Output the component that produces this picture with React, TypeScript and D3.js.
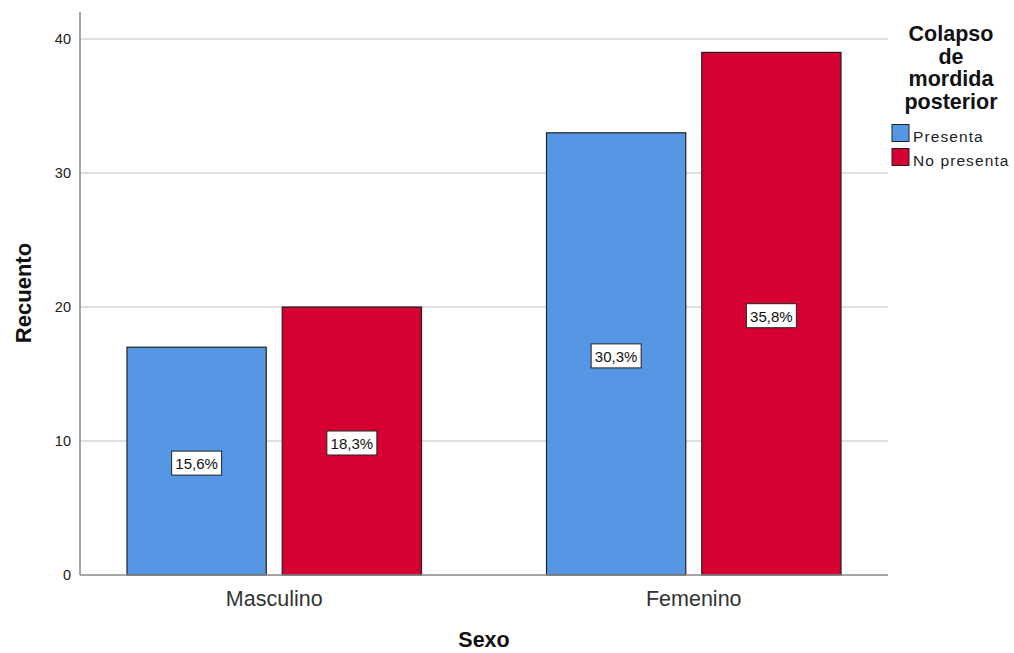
import React from "react";
import * as d3 from "d3";

const categories = ["Masculino", "Femenino"];
const seriesNames = ["Presenta", "No presenta"];
const counts = [
  [17, 20],
  [33, 39],
];
const percentLabels = [
  ["15,6%", "18,3%"],
  ["30,3%", "35,8%"],
];
const yTicks = [0, 10, 20, 30, 40];
const colors = ["#5596e5", "#d60032"];
const legendTitle = ["Colapso", "de", "mordida", "posterior"];

export default function App() {
  const W = 1014, H = 653;
  const left = 80, right = 888, top = 12, bottom = 575;
  const y = d3.scaleLinear().domain([0, 42]).range([bottom, bottom - 42 * 13.4]);
  const x0 = d3.scaleBand().domain(categories).range([left, right]).paddingInner(0.298).paddingOuter(0.112);
  const x1 = d3.scaleBand().domain(seriesNames).range([0, x0.bandwidth()]).paddingInner(0.103);
  const font = "Arial, 'Liberation Sans', sans-serif";
  return (
    <svg width={W} height={H} style={{ position: "absolute", left: 0, top: 0 }} fontFamily={font}>
      <rect width={W} height={H} fill="#fff" />
      {yTicks.filter(t => t > 0).map(t => (
        <line key={t} x1={left} x2={right} y1={y(t)} y2={y(t)} stroke="#d4d4d4" strokeWidth={1.5} />
      ))}
      {yTicks.map(t => (
        <text key={t} x={71} y={y(t)} dy="0.35em" textAnchor="end" fontSize={14.5} fill="#222">{t}</text>
      ))}
      {categories.map((c, ci) => (
        <g key={c}>
          {seriesNames.map((s, si) => {
            const bx = (x0(c) as number) + (x1(s) as number);
            const bw = x1.bandwidth();
            const v = counts[ci][si];
            const yc = y(v / 2) + 2;
            const lbl = percentLabels[ci][si];
            return (
              <g key={s}>
                <rect x={bx} y={y(v)} width={bw} height={bottom - y(v)} fill={colors[si]} stroke="#222" strokeWidth={1.2} />
                <rect x={bx + bw / 2 - 25} y={yc - 12} width={50} height={24} fill="#fff" stroke="#222" strokeWidth={1} />
                <text x={bx + bw / 2} y={yc + 1} dy="0.35em" textAnchor="middle" fontSize={15} fill="#111">{lbl}</text>
              </g>
            );
          })}
          <text x={(x0(c) as number) + x0.bandwidth() / 2} y={606} textAnchor="middle" fontSize={21.5} fill="#333">{c}</text>
        </g>
      ))}
      <line x1={left} x2={left} y1={top} y2={bottom} stroke="#888" strokeWidth={1.5} />
      <line x1={left} x2={right} y1={bottom} y2={bottom} stroke="#888" strokeWidth={1.5} />
      <text transform={`translate(31,293) rotate(-90)`} textAnchor="middle" fontSize={22} fontWeight="bold" fill="#111">Recuento</text>
      <text x={484} y={647} textAnchor="middle" fontSize={21.5} fontWeight="bold" fill="#111">Sexo</text>
      {legendTitle.map((l, i) => (
        <text key={l} x={951} y={41 + i * 22.7} textAnchor="middle" fontSize={21.5} fontWeight="bold" fill="#111">{l}</text>
      ))}
      {seriesNames.map((s, i) => (
        <g key={s}>
          <rect x={892} y={124.5 + i * 24} width={17} height={17} fill={colors[i]} stroke="#222" strokeWidth={1} />
          <text x={913} y={142 + i * 24} fontSize={15.5} letterSpacing={1.1} fill="#222">{s}</text>
        </g>
      ))}
    </svg>
  );
}
